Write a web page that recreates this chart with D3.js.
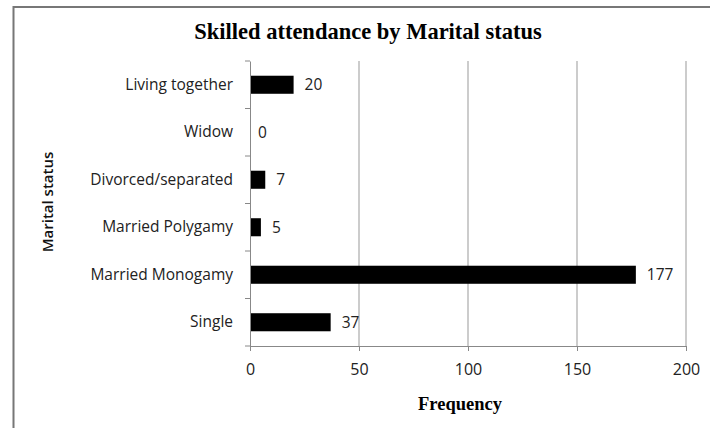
<!DOCTYPE html>
<html><head><meta charset="utf-8">
<script src="https://cdn.jsdelivr.net/npm/d3@7"></script>
<style>body{margin:0;background:#fff}</style>
</head><body>
<svg id="c" width="710" height="428"></svg>
<script>
const categories = ["Single","Married Monogamy","Married Polygamy","Divorced/separated","Widow","Living together"];
const values = [37,177,5,7,0,20];
const xTicks = [0,50,100,150,200];

const svg = d3.select("#c");
svg.append("rect").attr("x",13.5).attr("y",7).attr("width",720).attr("height",440)
  .attr("fill","#fff").attr("stroke","#777").attr("stroke-width",2);

const m = {l:250,r:686,t:61,b:346};
const x = d3.scaleLinear().domain([0,200]).range([m.l,m.r]);
const y = d3.scaleBand().domain(categories.slice().reverse()).range([m.t,m.b]).paddingInner(0.62).paddingOuter(0.31);
const yb = d3.scaleBand().domain(categories.slice().reverse()).range([m.t,m.b]);

const font = "'Open Sans', Lato, sans-serif";
svg.append("g").selectAll("line").data(xTicks.slice(1)).join("line")
  .attr("x1",d=>x(d)).attr("x2",d=>x(d)).attr("y1",m.t).attr("y2",m.b)
  .attr("stroke","#999").attr("stroke-width",1);

svg.append("g").selectAll("rect").data(categories).join("rect")
  .attr("x",x(0)).attr("y",d=>y(d)).attr("height",y.bandwidth())
  .attr("width",(d,i)=>x(values[i])-x(0)).attr("fill","#000");

svg.append("g").selectAll("text").data(categories).join("text")
  .attr("x",(d,i)=>x(values[i])+ (values[i]===0?8:11)).attr("y",d=>y(d)+y.bandwidth()/2)
  .attr("dy","0.35em").attr("font-family",font).attr("font-size",15.5).attr("fill","#222")
  .text((d,i)=>values[i]);

const xa = svg.append("g").attr("transform",`translate(0,${m.b})`)
  .call(d3.axisBottom(x).tickValues(xTicks).tickSize(5).tickPadding(13));
xa.select(".domain").attr("stroke","#888");
xa.selectAll(".tick line").attr("stroke","#888");
xa.selectAll("text").attr("font-family",font).attr("font-size",16).attr("fill","#222");

const ya = svg.append("g").attr("transform",`translate(${m.l},0)`)
  .call(d3.axisLeft(yb).tickSize(0).tickPadding(17));
ya.select(".domain").attr("stroke","#888");
ya.selectAll(".tick line").remove();
ya.selectAll("text").attr("font-family",font).attr("font-size",15.5).attr("fill","#222");
svg.append("g").selectAll("line").data(d3.range(categories.length+1)).join("line")
  .attr("x1",m.l-5).attr("x2",m.l).attr("y1",i=>m.t+i*yb.step()).attr("y2",i=>m.t+i*yb.step())
  .attr("stroke","#888");

svg.append("text").attr("x",368).attr("y",39).attr("text-anchor","middle")
  .attr("font-family","'Liberation Serif', serif").attr("font-weight","bold").attr("font-size",22.5)
  .text("Skilled attendance by Marital status");
svg.append("text").attr("x",460).attr("y",410).attr("text-anchor","middle")
  .attr("font-family","'Liberation Serif', serif").attr("font-weight","bold").attr("font-size",18.5)
  .text("Frequency");
svg.append("text").attr("transform","translate(53,202) rotate(-90)").attr("text-anchor","middle")
  .attr("font-family",font).attr("font-weight","600").attr("font-size",15).attr("fill","#111")
  .text("Marital status");
</script>
</body></html>
